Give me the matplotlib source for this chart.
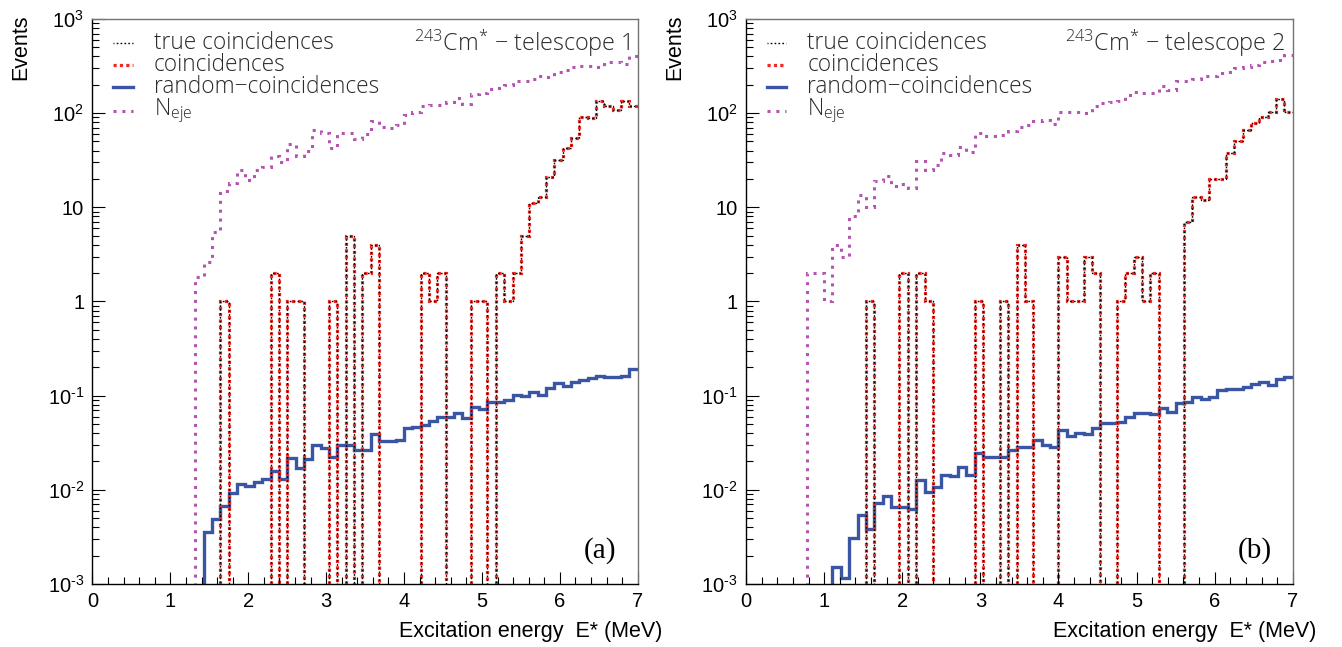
import matplotlib
matplotlib.use("Agg")
import matplotlib.pyplot as plt
import numpy as np
from matplotlib.lines import Line2D
from matplotlib.ticker import FixedLocator, FixedFormatter, MultipleLocator, NullFormatter

# histogram binning (MeV): 70 bins from -0.5 to 7.0
E_LOW, E_HIGH, N_BINS = -0.5, 7.0, 70

# each series: index of its first bin and the bin contents from there on

# telescope 1
coinc_1_first = 20
coinc_1 = [1, 0, 0, 0, 0, 0, 2, 0, 1, 1,
           0, 0, 0, 1, 0, 5, 0, 2, 4, 0,
           0, 0, 0, 0, 2, 1, 2, 0, 0, 0,
           1, 1, 0, 2, 1, 2, 5, 11, 13, 21,
           32, 43, 55, 92, 88, 135, 118, 108, 135, 120]
random_1_first = 18
random_1 = [0.0036, 0.0049, 0.0067, 0.0092, 0.0115, 0.011, 0.012, 0.013, 0.016, 0.013,
            0.022, 0.017, 0.021, 0.030, 0.0275, 0.0225, 0.030, 0.030, 0.0265, 0.0265,
            0.039, 0.033, 0.033, 0.0335, 0.045, 0.047, 0.049, 0.054, 0.060, 0.060,
            0.065, 0.058, 0.076, 0.072, 0.086, 0.086, 0.090, 0.102, 0.098, 0.110,
            0.102, 0.120, 0.1375, 0.127, 0.141, 0.147, 0.153, 0.162, 0.157, 0.159,
            0.162, 0.191]
neje_1_first = 17
neje_1 = [1.8, 2.6, 5.5, 15, 18, 25, 19.5, 25, 27, 35,
          30, 47, 35, 40, 66, 62, 43, 62, 62, 53,
          60, 82, 72, 70, 75, 95, 104, 118, 123, 123,
          131, 145, 125, 161, 165, 182, 185, 200, 221, 221,
          232, 245, 240, 274, 289, 306, 314, 314, 310, 349,
          349, 335, 400]

# telescope 2
coinc_2_first = 19
coinc_2 = [1, 0, 0, 0, 2, 0, 2, 1, 0, 0,
           0, 0, 0, 1, 0, 0, 1, 0, 4, 1,
           0, 0, 0, 3, 1, 1, 3, 2, 0, 0,
           1, 2, 3, 1, 2, 0, 0, 0, 7, 13,
           12, 20, 20, 38, 50, 67, 78, 90, 104, 140,
           102]
random_2_first = 15
random_2 = [0.0015, 0.00115, 0.0031, 0.0054, 0.0038, 0.0073, 0.0085, 0.0066, 0.0066, 0.0062,
            0.0127, 0.0095, 0.0108, 0.0143, 0.014, 0.0173, 0.0143, 0.0244, 0.0221, 0.0221,
            0.0221, 0.0265, 0.0283, 0.0287, 0.0338, 0.0299, 0.0287, 0.0432, 0.0373, 0.0405,
            0.039, 0.0457, 0.051, 0.051, 0.052, 0.060, 0.065, 0.065, 0.0634, 0.0734,
            0.0676, 0.0843, 0.0863, 0.0977, 0.0917, 0.0977, 0.115, 0.117, 0.117, 0.125,
            0.133, 0.141, 0.130, 0.149, 0.159]
neje_2_first = 12
neje_2 = [2, 2, 1, 4, 3, 8, 13.6, 10, 19, 21.6,
          16.7, 17.5, 16, 31, 25, 28, 38, 36, 44, 39,
          61, 57, 57, 58, 64, 72, 74, 82, 85, 76,
          104, 104, 104, 100, 118, 128, 131, 136, 154, 167,
          164, 164, 192, 177, 217, 221, 232, 246, 246, 267,
          273, 301, 306, 327, 346, 354, 369, 417]

y_tick_values = [1e-3, 1e-2, 1e-1, 1, 10, 1e2, 1e3]
y_tick_labels = ["$\\mathregular{10^{\u20103}}$", "$\\mathregular{10^{\u20102}}$",
                 "$\\mathregular{10^{\u20101}}$", "1", "10",
                 r"$\mathregular{10^{2}}$", r"$\mathregular{10^{3}}$"]

legend_labels = ["true coincidences", "coincidences",
                 "random\u2212coincidences", r"N$\mathregular{_{eje}}$"]
panel_titles = ["$\\mathregular{^{243}}$Cm$\\mathregular{^{*}}$ \u2212 telescope 1",
                "$\\mathregular{^{243}}$Cm$\\mathregular{^{*}}$ \u2212 telescope 2"]
panel_tags = ["(a)", "(b)"]

BLUE = "#3b55a5"
RED = "#ee2a24"
MAGENTA = "#b354b1"
TEXT_DARK = "#2a2a2a"

TICK_FONT = "Liberation Sans"
LEGEND_FONT = "Open Sans"

plt.rcParams["font.family"] = TICK_FONT

edges = np.linspace(E_LOW, E_HIGH, N_BINS + 1)


def filled(first, values):
    h = np.zeros(N_BINS)
    h[first:first + len(values)] = values
    # empty bins drop below the frame, as in a log-scale histogram
    return np.where(h > 0, h, 1e-9)


styles = {
    "true": dict(color="black", lw=1.0, ls=(0.5, (1.2, 1.6))),
    "coinc": dict(color=RED, lw=2.3, ls=(0, (1, 1))),
    "random": dict(color=BLUE, lw=2.4, ls="-"),
    "neje": dict(color=MAGENTA, lw=2.2, ls=(0, (1, 1.9))),
}


def draw_panel(ax, coinc, random, neje, title, tag):
    ax.stairs(neje, edges, baseline=None, **styles["neje"])
    ax.stairs(random, edges, baseline=None, **styles["random"])
    ax.stairs(coinc, edges, baseline=None, **styles["coinc"])
    ax.stairs(coinc, edges, baseline=None, **styles["true"])

    ax.set_yscale("log")
    ax.set_xlim(0, 7)
    ax.set_ylim(1e-3, 1e3)

    ax.xaxis.set_major_locator(MultipleLocator(1))
    ax.xaxis.set_minor_locator(MultipleLocator(0.2))
    ax.yaxis.set_major_locator(FixedLocator(y_tick_values))
    ax.yaxis.set_major_formatter(FixedFormatter(y_tick_labels))
    minors = [m * 10.0 ** d for d in range(-3, 3) for m in range(2, 10)]
    ax.yaxis.set_minor_locator(FixedLocator(minors))
    ax.yaxis.set_minor_formatter(NullFormatter())

    ax.tick_params(which="both", direction="in", top=False, right=False,
                   labelsize=14.5, width=0.8, colors="black")
    ax.tick_params(which="major", length=9, pad=6)
    ax.tick_params(which="minor", length=5)
    for side in ("left", "bottom"):
        ax.spines[side].set_color("black")
        ax.spines[side].set_linewidth(1.0)
    for side in ("top", "right"):
        ax.spines[side].set_color("0.45")
        ax.spines[side].set_linewidth(1.0)

    # legend drawn by hand in axes coordinates
    rows = [0.9575, 0.9186, 0.8796, 0.8370]
    keys = ["true", "coinc", "random", "neje"]
    for y, key, label in zip(rows, keys, legend_labels):
        st = styles[key]
        ax.add_line(Line2D([0.038, 0.074], [y, y], transform=ax.transAxes,
                           color=st["color"], lw=st["lw"], ls=st["ls"]))
        ax.text(0.112, y, label, transform=ax.transAxes, ha="left", va="center",
                fontsize=16.3, family=LEGEND_FONT, fontweight="light", color=TEXT_DARK)

    ax.text(0.986, 0.9575, title, transform=ax.transAxes, ha="right", va="center",
            fontsize=16.8, family=LEGEND_FONT, fontweight="light", color=TEXT_DARK)
    ax.text(0.93, 0.06, tag, transform=ax.transAxes, ha="center", va="center",
            fontsize=21, family="Liberation Serif")


fig = plt.figure(figsize=(13.42, 6.47), dpi=100)
ax_a = fig.add_axes([0.0689, 0.0974, 0.4063, 0.8733])
ax_b = fig.add_axes([0.5559, 0.0974, 0.4074, 0.8733])

draw_panel(ax_a, filled(coinc_1_first, coinc_1), filled(random_1_first, random_1),
           filled(neje_1_first, neje_1), panel_titles[0], panel_tags[0])
draw_panel(ax_b, filled(coinc_2_first, coinc_2), filled(random_2_first, random_2),
           filled(neje_2_first, neje_2), panel_titles[1], panel_tags[1])

for x_events, x_label in ((21, 662), (675, 1316)):
    fig.text(x_events / 1342, 1 - 14 / 647, "Events", rotation=90, ha="center", va="top",
             fontsize=15.5)
    fig.text(x_label / 1342, 1 - 632 / 647, "Excitation energy  E* (MeV)", ha="right",
             va="center", fontsize=15.5)

fig.savefig("out.png", dpi=100)
